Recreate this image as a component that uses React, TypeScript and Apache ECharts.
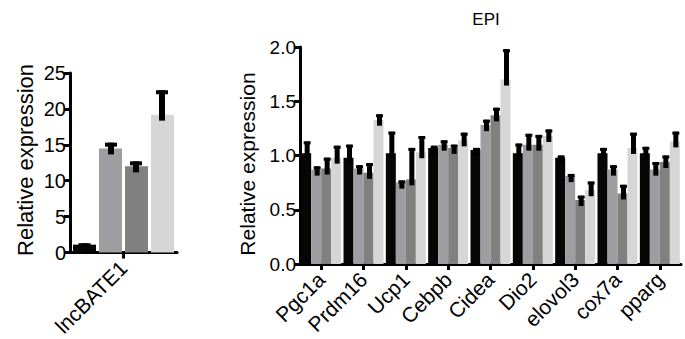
import React, { useEffect, useRef } from "react";
import * as echarts from "echarts";

// ---- data ----
const leftCategories = ["lncBATE1"];
const leftMeans = [1.1, 14.5, 12.0, 19.2]; // one value per group
const leftUpper = [1.3, 15.3, 12.7, 22.6];

const epiGenes = ["Pgc1a", "Prdm16", "Ucp1", "Cebpb", "Cidea", "Dio2", "elovol3", "cox7a", "pparg"];
const epiGroup1 = [1.02, 0.98, 1.02, 1.07, 1.05, 1.02, 0.98, 1.02, 1.02];
const epiGroup1Upper = [1.13, 1.1, 1.22, 1.09, 1.07, 1.11, 1.0, 1.07, 1.08];
const epiGroup2 = [0.87, 0.88, 0.75, 1.1, 1.28, 1.1, 0.81, 0.87, 0.87];
const epiGroup2Upper = [0.9, 0.91, 0.77, 1.14, 1.33, 1.2, 0.83, 0.91, 0.94];
const epiGroup3 = [0.88, 0.84, 0.78, 1.07, 1.37, 1.1, 0.59, 0.65, 0.94];
const epiGroup3Upper = [0.98, 0.93, 1.07, 1.1, 1.44, 1.19, 0.63, 0.73, 1.0];
const epiGroup4 = [0.98, 1.33, 1.03, 1.14, 1.7, 1.18, 0.68, 1.07, 1.13];
const epiGroup4Upper = [1.09, 1.38, 1.18, 1.21, 1.98, 1.24, 0.76, 1.21, 1.22];

const leftTicks = { min: 0, max: 25, interval: 5 };
const rightTicks = { min: 0, max: 2, interval: 0.5 };

const colors = ["#060606", "#9e9ea2", "#808080", "#d6d6d6"];
const FONT = "Liberation Sans";

export default function App() {
  const ref = useRef<HTMLDivElement>(null);
  useEffect(() => {
    document.body.style.margin = "0";
    const chart = echarts.init(ref.current!, undefined, { renderer: "svg" });

    const epiMeans = [epiGroup1, epiGroup2, epiGroup3, epiGroup4];
    const epiUppers = [epiGroup1Upper, epiGroup2Upper, epiGroup3Upper, epiGroup4Upper];

    const errSeries = (
      gi: number,
      data: number[][],
      offset: number,
      w: number,
      capW: number,
      capH: number,
      ext: number
    ) => ({
      type: "custom",
      xAxisIndex: gi,
      yAxisIndex: gi,
      z: 5,
      data,
      renderItem: (_p: any, api: any) => {
        const cat = api.value(0);
        const base = api.coord([cat, api.value(1)]);
        const top = api.coord([cat, api.value(2)]);
        const x = base[0] + offset;
        return {
          type: "group",
          children: [
            {
              type: "rect",
              shape: { x: x - w / 2, y: top[1], width: w, height: base[1] - top[1] + ext },
              style: { fill: "#000" },
            },
            {
              type: "rect",
              shape: { x: x - capW / 2, y: top[1], width: capW, height: capH },
              style: { fill: "#000" },
            },
          ],
        };
      },
    });

    const series: any[] = [];
    const leftOffsets = [-39, -12.5, 12.5, 38.5];
    for (let s = 0; s < 4; s++) {
      series.push({
        type: "bar",
        xAxisIndex: 0,
        yAxisIndex: 0,
        data: [leftMeans[s]],
        barWidth: 23,
        barGap: "13%",
        itemStyle: { color: colors[s] },
      });
    }
    for (let s = 0; s < 4; s++) {
      series.push(errSeries(0, [[0, leftMeans[s], leftUpper[s]]], leftOffsets[s], 6, 12, 4, 6));
    }
    const rightOffsets = [-15, -5, 5, 15];
    for (let s = 0; s < 4; s++) {
      series.push({
        type: "bar",
        xAxisIndex: 1,
        yAxisIndex: 1,
        data: epiMeans[s],
        barWidth: 10,
        barGap: "0%",
        itemStyle: { color: colors[s] },
      });
    }
    for (let s = 0; s < 4; s++) {
      series.push(
        errSeries(
          1,
          epiGenes.map((_, i) => [i, epiMeans[s][i], epiUppers[s][i]]),
          rightOffsets[s] + 1,
          5,
          7,
          3,
          6
        )
      );
    }

    const axisLine = { show: true, lineStyle: { color: "#000", width: 3 } };
    const axisTick = { show: true, length: 6, lineStyle: { color: "#000", width: 3 } };
    const labelStyle = { color: "#000", fontFamily: FONT, fontSize: 19 };

    chart.setOption({
      animation: false,
      title: {
        text: "EPI",
        left: 481,
        top: 6,
        textAlign: "center",
        textStyle: { fontFamily: FONT, fontSize: 17, fontWeight: "normal", color: "#000" },
      },
      grid: [
        { left: 70, top: 73, width: 107, height: 180 },
        { left: 300, top: 47, width: 381, height: 217 },
      ],
      xAxis: [
        {
          type: "category",
          gridIndex: 0,
          data: leftCategories,
          axisLine,
          axisTick: { ...axisTick, alignWithLabel: true },
          axisLabel: { ...labelStyle, fontSize: 21, rotate: 45, margin: 12, interval: 0 },
        },
        {
          type: "category",
          gridIndex: 1,
          data: epiGenes,
          axisLine,
          axisTick: { ...axisTick, alignWithLabel: true },
          axisLabel: { ...labelStyle, fontSize: 21, rotate: 45, margin: 12, interval: 0 },
        },
      ],
      yAxis: [
        {
          type: "value",
          gridIndex: 0,
          ...leftTicks,
          axisLine,
          axisTick,
          splitLine: { show: false },
          axisLabel: { ...labelStyle, fontSize: 20, margin: 4 },
        },
        {
          type: "value",
          gridIndex: 1,
          ...rightTicks,
          axisLine,
          axisTick,
          splitLine: { show: false },
          axisLabel: { ...labelStyle, margin: 4, formatter: (v: number) => v.toFixed(1) },
        },
      ],
      graphic: [
        {
          type: "text",
          x: 25,
          y: 160,
          rotation: Math.PI / 2,
          style: {
            text: "Relative expression",
            font: `22px '${FONT}'`,
            fill: "#000",
            align: "center",
            verticalAlign: "middle",
          },
        },
        {
          type: "text",
          x: 247,
          y: 164,
          rotation: Math.PI / 2,
          style: {
            text: "Relative expression",
            font: `21px '${FONT}'`,
            fill: "#000",
            align: "center",
            verticalAlign: "middle",
          },
        },
      ],
      series,
    });
    return () => chart.dispose();
  }, []);
  return <div ref={ref} style={{ position: "absolute", left: 0, top: 0, width: 685, height: 339 }} />;
}
